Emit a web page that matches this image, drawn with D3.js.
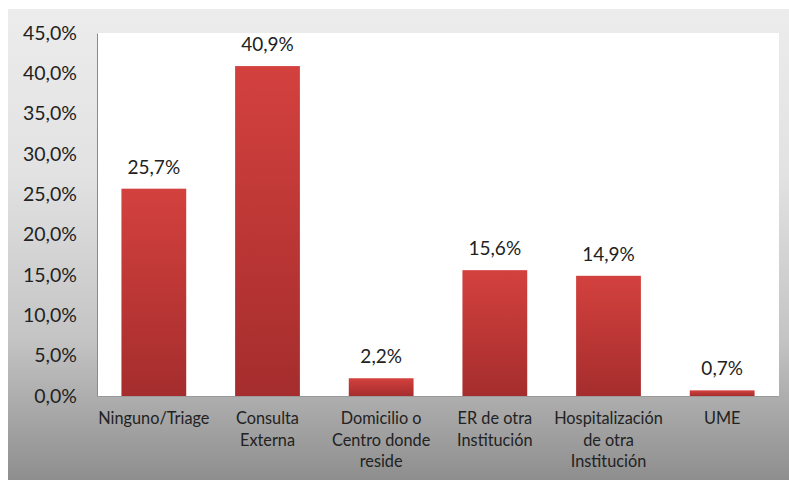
<!DOCTYPE html>
<html>
<head>
<meta charset="utf-8">
<script src="https://cdn.jsdelivr.net/npm/d3@7"></script>
<style>
  html, body { margin: 0; padding: 0; background: #fff; }
  svg { display: block; }
  text { font-family: Lato, "Open Sans", sans-serif; fill: #222; }
</style>
</head>
<body>
<svg id="chart" width="789" height="480"></svg>
<script>
// Data
const categories = [
  ["Ninguno/Triage"],
  ["Consulta", "Externa"],
  ["Domicilio o", "Centro donde", "reside"],
  ["ER de otra", "Institución"],
  ["Hospitalización", "de otra", "Institución"],
  ["UME"]
];
const values = [25.7, 40.9, 2.2, 15.6, 14.9, 0.7];
const yTicks = [0, 5, 10, 15, 20, 25, 30, 35, 40, 45];

const fmt = v => v.toFixed(1).replace(".", ",") + "%";

const svg = d3.select("#chart");
const W = 789, H = 480;
const plot = { left: 97, right: 779, top: 33, bottom: 396 };

const defs = svg.append("defs");
const bg = defs.append("linearGradient").attr("id", "bgGrad")
  .attr("x1", 0).attr("y1", 0).attr("x2", 0).attr("y2", 1);
bg.append("stop").attr("offset", "0").attr("stop-color", "#ececec");
bg.append("stop").attr("offset", "0.35").attr("stop-color", "#e2e2e2");
bg.append("stop").attr("offset", "0.7").attr("stop-color", "#c4c4c4");
bg.append("stop").attr("offset", "1").attr("stop-color", "#8e8e8e");

const barGrad = defs.append("linearGradient").attr("id", "barGrad")
  .attr("x1", 0).attr("y1", 0).attr("x2", 0).attr("y2", 1);
barGrad.append("stop").attr("offset", "0").attr("stop-color", "#d3413e");
barGrad.append("stop").attr("offset", "1").attr("stop-color", "#a52d2d");

// Outer panel
svg.append("rect").attr("x", 8).attr("y", 9).attr("width", W - 8).attr("height", H - 9)
  .attr("fill", "url(#bgGrad)");

// Plot area
svg.append("rect")
  .attr("x", plot.left).attr("y", plot.top)
  .attr("width", plot.right - plot.left).attr("height", plot.bottom - plot.top)
  .attr("fill", "#ffffff");

const x = d3.scaleBand()
  .domain(d3.range(categories.length))
  .range([plot.left, plot.right])
  .paddingInner(0.43)
  .paddingOuter(0.215);

const y = d3.scaleLinear().domain([0, 45]).range([plot.bottom, plot.top]);

// Y axis
const yAxis = svg.append("g")
  .attr("transform", `translate(${plot.left},0)`)
  .call(d3.axisLeft(y).tickValues(yTicks).tickFormat(fmt).tickSize(0).tickPadding(20));
yAxis.select(".domain").attr("stroke", "#8a8a8a").attr("stroke-width", 1);
yAxis.selectAll("text").style("font-size", "19.5px").attr("fill", "#222");

// Bottom axis line
svg.append("line")
  .attr("x1", plot.left).attr("x2", plot.right)
  .attr("y1", plot.bottom + 0.5).attr("y2", plot.bottom + 0.5)
  .attr("stroke", "#9a9a9a").attr("stroke-width", 1);

// Bars
svg.append("g").selectAll("rect")
  .data(values)
  .join("rect")
  .attr("x", (d, i) => x(i))
  .attr("y", d => y(d))
  .attr("width", x.bandwidth())
  .attr("height", d => y(0) - y(d))
  .attr("fill", "url(#barGrad)");

// Value labels
svg.append("g").selectAll("text")
  .data(values)
  .join("text")
  .attr("x", (d, i) => x(i) + x.bandwidth() / 2)
  .attr("y", d => y(d) - 15)
  .attr("text-anchor", "middle")
  .style("font-size", "19px")
  .text(d => fmt(d));

// Category labels
const cat = svg.append("g").selectAll("text")
  .data(categories)
  .join("text")
  .attr("text-anchor", "middle")
  .style("font-size", "16.3px")
  .attr("x", (d, i) => x(i) + x.bandwidth() / 2)
  .attr("y", 424);
cat.selectAll("tspan")
  .data(d => d)
  .join("tspan")
  .attr("x", function() { return this.parentNode.getAttribute("x"); })
  .attr("dy", (d, i) => i === 0 ? 0 : 21.5)
  .text(d => d);
</script>
</body>
</html>
